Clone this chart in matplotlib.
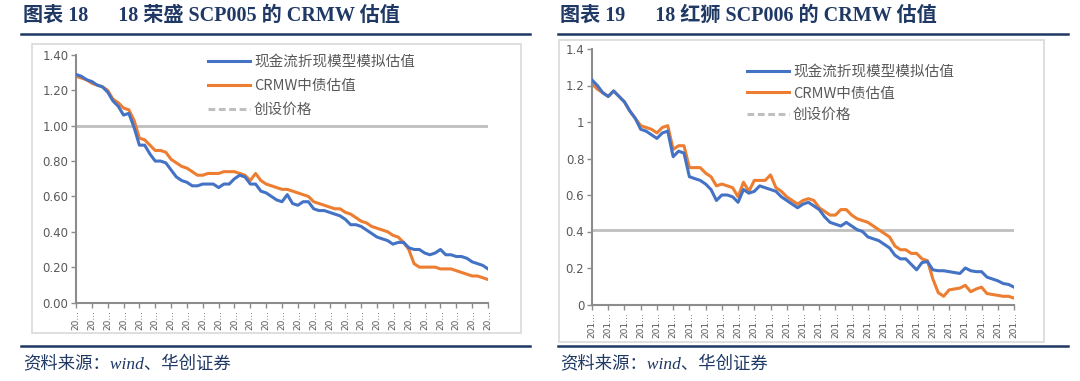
import matplotlib.pyplot as plt
from matplotlib.lines import Line2D
from matplotlib.patches import Rectangle

plt.rcParams['font.family'] = ['Noto Sans CJK SC', 'DejaVu Sans']

# 18荣盛SCP005
rs_model = [1.29, 1.28, 1.26, 1.25, 1.23, 1.22, 1.19, 1.14, 1.11, 1.06,
            1.07, 0.99, 0.89, 0.89, 0.84, 0.80, 0.80, 0.79, 0.75, 0.71,
            0.69, 0.68, 0.66, 0.66, 0.67, 0.67, 0.67, 0.65, 0.67, 0.67,
            0.70, 0.72, 0.71, 0.67, 0.67, 0.63, 0.62, 0.60, 0.58, 0.57,
            0.61, 0.56, 0.55, 0.57, 0.57, 0.53, 0.52, 0.52, 0.51, 0.50,
            0.49, 0.47, 0.44, 0.44, 0.43, 0.41, 0.39, 0.37, 0.36, 0.35,
            0.33, 0.34, 0.34, 0.31, 0.30, 0.30, 0.28, 0.27, 0.28, 0.30,
            0.27, 0.27, 0.26, 0.26, 0.25, 0.23, 0.22, 0.21, 0.19]
rs_crmw = [1.28, 1.27, 1.26, 1.24, 1.23, 1.22, 1.20, 1.15, 1.13, 1.10,
           1.09, 1.03, 0.93, 0.92, 0.89, 0.86, 0.86, 0.85, 0.81, 0.79,
           0.77, 0.76, 0.74, 0.72, 0.72, 0.73, 0.73, 0.73, 0.74, 0.74,
           0.74, 0.73, 0.72, 0.69, 0.73, 0.69, 0.67, 0.66, 0.65, 0.64,
           0.64, 0.63, 0.62, 0.61, 0.60, 0.57, 0.56, 0.55, 0.54, 0.53,
           0.53, 0.51, 0.50, 0.48, 0.46, 0.45, 0.43, 0.42, 0.41, 0.40,
           0.38, 0.37, 0.34, 0.30, 0.22, 0.20, 0.20, 0.20, 0.20, 0.19,
           0.19, 0.19, 0.18, 0.17, 0.16, 0.15, 0.15, 0.14, 0.13]
rs_issue = 1.00

# 18红狮SCP006
hs_model = [1.23, 1.20, 1.16, 1.14, 1.17, 1.14, 1.11, 1.06, 1.02, 0.96,
            0.95, 0.93, 0.91, 0.94, 0.95, 0.81, 0.84, 0.83, 0.70, 0.69,
            0.68, 0.66, 0.63, 0.57, 0.60, 0.60, 0.59, 0.56, 0.63, 0.61,
            0.62, 0.65, 0.64, 0.63, 0.62, 0.59, 0.57, 0.55, 0.53, 0.55,
            0.56, 0.54, 0.52, 0.48, 0.45, 0.44, 0.43, 0.45, 0.43, 0.41,
            0.40, 0.37, 0.36, 0.35, 0.33, 0.31, 0.27, 0.25, 0.25, 0.22,
            0.19, 0.23, 0.235, 0.19, 0.185, 0.185, 0.18, 0.175, 0.17, 0.20,
            0.185, 0.18, 0.18, 0.15, 0.14, 0.13, 0.115, 0.11, 0.095]
hs_crmw = [1.21, 1.18, 1.16, 1.14, 1.17, 1.14, 1.11, 1.06, 1.02, 0.98,
           0.97, 0.96, 0.94, 0.97, 0.98, 0.85, 0.87, 0.87, 0.75, 0.75,
           0.75, 0.72, 0.70, 0.65, 0.66, 0.65, 0.64, 0.59, 0.67, 0.62,
           0.68, 0.68, 0.68, 0.71, 0.64, 0.62, 0.59, 0.57, 0.55, 0.57,
           0.58, 0.57, 0.53, 0.51, 0.49, 0.49, 0.52, 0.52, 0.49, 0.47,
           0.46, 0.45, 0.43, 0.41, 0.39, 0.37, 0.32, 0.30, 0.30, 0.28,
           0.28, 0.25, 0.24, 0.14, 0.065, 0.045, 0.08, 0.085, 0.09, 0.105,
           0.07, 0.085, 0.095, 0.06, 0.055, 0.05, 0.045, 0.045, 0.035]
hs_issue = 0.41

labels = ['现金流折现模型模拟估值', 'CRMW中债估值', '创设价格']
rs_ticklabels = ['20...'] * 27
hs_ticklabels = ['201...'] * 27

W, H = 1080, 381
fig = plt.figure(figsize=(W / 100, H / 100), dpi=100)

navy = '#1F3864'
blue = '#4472C4'
orange = '#ED7D31'
gray = '#BFBFBF'
axis_gray = '#8C8C8C'
text_gray = '#595959'


def px_axes(l, r, t, b):
    return fig.add_axes([l / W, 1 - b / H, (r - l) / W, (b - t) / H])


def panel(x0, x1, title, box, axbox, model, crmw, issue, ticklabels,
          yfmt, legend_px, legend_sp):
    # title, rules and source note
    fig.text(x0 + 2 / W, 1 - 15.5 / H, title, fontsize=14.5, weight='bold',
             color=navy, va='center', ha='left',
             family=['Liberation Serif', 'Noto Sans CJK SC'])
    fig.add_artist(Line2D([x0, x1], [1 - 33.5 / H] * 2, color=navy, lw=1.8))
    fig.add_artist(Line2D([x0, x1], [1 - 346 / H] * 2, color=navy, lw=1.8))
    fig.text(x0 + 2 / W, 1 - 364 / H, '资料来源：wind、华创证券', fontsize=12.5,
             style='italic', color=navy, va='center', ha='left',
             family=['Liberation Serif', 'Noto Sans CJK SC'])
    bl, br, bt, bb = box
    fig.add_artist(Rectangle((bl / W, 1 - bb / H), (br - bl) / W, (bb - bt) / H,
                             fill=False, edgecolor='#D9D9D9', lw=1.2))

    ax = px_axes(*axbox)
    x = list(range(len(model)))
    ax.axhline(issue, color=gray, lw=2, zorder=1)
    ax.plot(x, model, color=blue, lw=2.2, zorder=3)
    ax.plot(x, crmw, color=orange, lw=2.2, zorder=2)
    ax.set_xlim(0, len(model) - 1)
    ax.set_ylim(0, 1.4)
    ax.set_xticks(x[::3])
    ax.set_xticklabels(ticklabels, rotation=90, fontsize=6.5, color=text_gray,
                       family='DejaVu Sans')
    yt = [0, 0.2, 0.4, 0.6, 0.8, 1.0, 1.2, 1.4]
    ax.set_yticks(yt)
    ax.set_yticklabels([yfmt(v) for v in yt], fontsize=8.5, color=text_gray,
                       family='DejaVu Sans')
    for s in ['top', 'right']:
        ax.spines[s].set_visible(False)
    for s in ['left', 'bottom']:
        ax.spines[s].set_color(axis_gray)
        ax.spines[s].set_linewidth(1.5)
    ax.tick_params(axis='both', direction='out', length=3.5, width=1,
                   color=axis_gray, pad=2)

    handles = [Line2D([], [], color=blue, lw=2.2),
               Line2D([], [], color=orange, lw=2.2),
               Line2D([], [], color=gray, lw=2.2, ls=(0, (2.2, 1.2)))]
    lx, ly = legend_px
    ax.legend(handles, labels, loc='upper left',
              bbox_to_anchor=(lx / W, 1 - ly / H), bbox_transform=fig.transFigure,
              frameon=False, fontsize=10.5, handlelength=2.9, handletextpad=0.25,
              labelspacing=legend_sp, borderpad=0, borderaxespad=0,
              labelcolor=text_gray)
    return ax


ax1 = panel(21 / W, 530 / W, '图表 18      18 荣盛 SCP005 的 CRMW 估值',
            (32, 521, 44, 333), (76, 488, 55, 302.5),
            rs_model, rs_crmw, rs_issue, rs_ticklabels,
            lambda v: f'{v:.2f}', (208, 55), 0.68)

ax2 = panel(558 / W, 1068 / W, '图表 19      18 红狮 SCP006 的 CRMW 估值',
            (559, 1044, 40, 342), (592, 1014, 49, 304.5),
            hs_model, hs_crmw, hs_issue, hs_ticklabels,
            lambda v: f'{v:g}', (747, 65), 0.52)

fig.savefig('out.png', dpi=100)
